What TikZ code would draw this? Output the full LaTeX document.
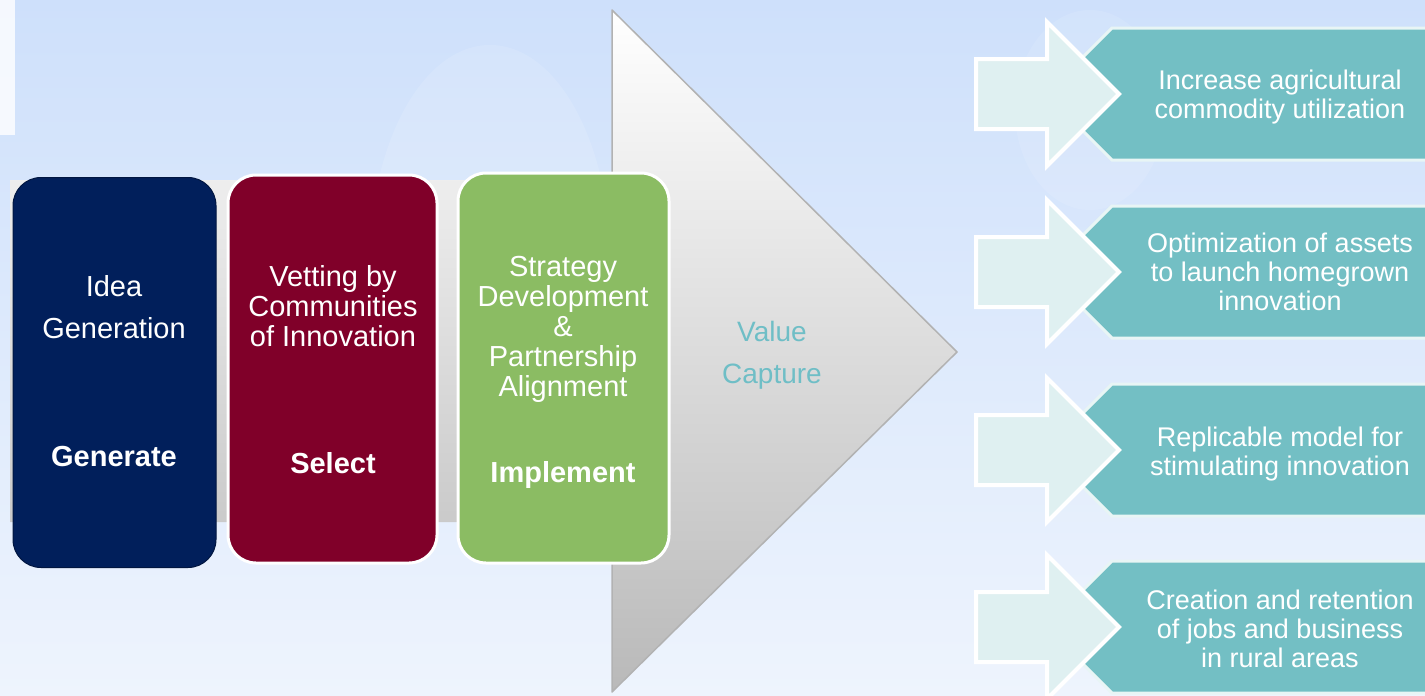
\documentclass[tikz,border=0pt]{standalone}
\usepackage{fontspec}
\setmainfont{Liberation Sans}
\usetikzlibrary{positioning}
\definecolor{bgtop}{RGB}{206,224,251}
\definecolor{bgbot}{RGB}{238,244,253}
\definecolor{navy}{RGB}{1,31,91}
\definecolor{maroon}{RGB}{128,0,41}
\definecolor{leaf}{RGB}{139,188,99}
\definecolor{tagfill}{RGB}{115,191,196}
\definecolor{tagedge}{RGB}{232,245,245}
\definecolor{pale}{RGB}{223,240,241}
\definecolor{capture}{RGB}{111,190,198}
\begin{document}
\begin{tikzpicture}[x=1pt, y=-1pt,
    stage/.style={rounded corners=28pt, draw=white, line width=3pt, inner sep=0pt},
    stagetxt/.style={text=white, align=center, font=\fontsize{29}{30}\selectfont},
    stagekey/.style={text=white, anchor=base, font=\bfseries\fontsize{29}{30}\selectfont},
    goaltxt/.style={text=white, align=center, font=\fontsize{27}{29}\selectfont}]
    \useasboundingbox (0,0) rectangle (1425,696);
    % background
    \shade[top color=bgtop, bottom color=bgbot] (0,0) rectangle (1425,696);
    \fill[white, opacity=0.8] (0,0) rectangle (15,135);
    \fill[white, opacity=0.12] (490,260) ellipse (120pt and 215pt);
    \fill[white, opacity=0.1] (1090,110) ellipse (75pt and 100pt);
    % big arrow: body and head
    \coordinate (tip) at (957,352);
    \shade[top color=white, middle color=white!96!black, bottom color=gray!55]
      (10,180) -- (612,180) -- (612,10) -- (tip) -- (612,692) -- (612,522) -- (10,522) -- cycle;
    \draw[gray!60, line width=1.5pt, line join=round] (612,180) -- (612,10) -- (tip) -- (612,692) -- (612,522);
    % stages
    \node[stage, fill=navy, draw=navy!70!black, line width=1pt, minimum width=203pt, minimum height=390pt] (gen) at (114.5,372.5) {};
    \node[stage, fill=maroon, minimum width=209pt, minimum height=388pt] (sel) at (332.5,369) {};
    \node[stage, fill=leaf, minimum width=211pt, minimum height=390pt] (imp) at (563.5,368) {};
    \node[stagetxt] (idea) at (114,307.5) {Idea\\[12pt]Generation};
    \node[stagekey] (generate) at (114,466) {Generate};
    \node[stagetxt] (vetting) at (333,306) {Vetting by\\Communities\\of Innovation};
    \node[stagekey] (select) at (333,473) {Select};
    \node[stagetxt] (strategy) at (563,329) {Strategy\\Development\\\&\\Partnership\\Alignment};
    \node[stagekey] (implement) at (563,482) {Implement};
    \node[text=capture, align=center, font=\fontsize{28}{42}\selectfont] (value) at (772,355) {Value\\Capture};
    % outcomes
    \foreach \cy/\ty/\name/\txt in {94/97.5/increase/{Increase agricultural\\commodity utilization},
        272/272/optimize/{Optimization of assets\\to launch homegrown\\innovation},
        450/454/replicate/{Replicable model for\\stimulating innovation},
        627/629/jobs/{Creation and retention\\of jobs and business\\in rural areas}} {
      \filldraw[fill=tagfill, draw=tagedge, line width=3pt] (1112,\cy-66) -- (1440,\cy-66) -- (1440,\cy+66) -- (1112,\cy+66) -- (1046,\cy) -- cycle;
      \filldraw[fill=pale, draw=white, line width=4pt] (976,\cy-35) -- (1047,\cy-35) -- (1047,\cy-72) -- (1119,\cy) -- (1047,\cy+72) -- (1047,\cy+35) -- (976,\cy+35) -- cycle;
      \node[goaltxt] (\name) at (1280,\ty) {\txt};
    }
\end{tikzpicture}
\end{document}
